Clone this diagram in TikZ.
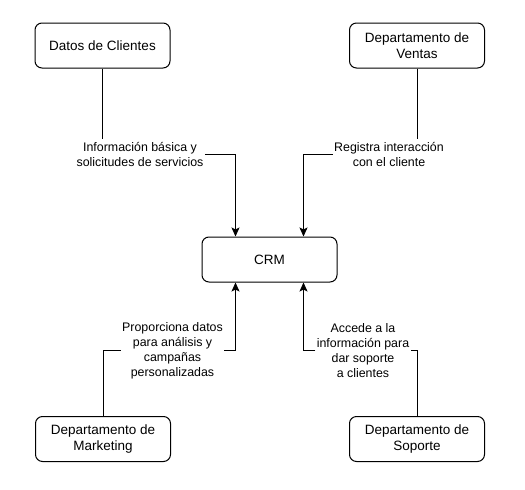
\documentclass[tikz,border=0pt]{standalone}
\usepackage{fontspec}
\setmainfont{Liberation Sans}
\usetikzlibrary{arrows.meta,calc}
\begin{document}
\begin{tikzpicture}[x=1pt, y=-1pt, line width=1pt, >={Stealth[length=9pt,width=8pt,inset=2pt]},
    box/.style={draw, rounded corners=7pt, minimum width=135pt, minimum height=45pt, align=center, font=\fontsize{13.5}{16}\selectfont},
    lbl/.style={align=center, inner xsep=1pt, inner ysep=2pt, font=\fontsize{12.4}{15}\selectfont}]

    \useasboundingbox (0,0) rectangle (525,490);

    \node[box] (datos) at (102.5,45.5) {Datos de Clientes};
    \node[box] (ventas) at (417,45.5) {Departamento de\\Ventas};
    \node[box] (crm) at (269.5,259.5) {CRM};
    \node[box] (marketing) at (103,439) {Departamento de\\Marketing};
    \node[box] (soporte) at (417,439) {Departamento de\\Soporte};

    \node[lbl] (info) at (140,154) {Información básica y\\solicitudes de servicios};
    \node[lbl] (registra) at (389,154) {Registra interacción\\con el cliente};
    \node[lbl] (proporciona) at (172.5,350.5) {Proporciona datos\\para análisis y\\campañas\\personalizadas};
    \node[lbl] (accede) at (363,350.5) {Accede a la\\información para\\dar soporte\\a clientes};

    \coordinate (crmtl) at ($(crm.north west)!.25!(crm.north east)$);
    \coordinate (crmtr) at ($(crm.north west)!.75!(crm.north east)$);
    \coordinate (crmbl) at ($(crm.south west)!.25!(crm.south east)$);
    \coordinate (crmbr) at ($(crm.south west)!.75!(crm.south east)$);

    \draw (datos.south) -- (datos.south |- info.north);
    \draw[->] (info.east) -| (crmtl);

    \draw (ventas.south) -- (ventas.south |- registra.north);
    \draw[->] (registra.west) -| (crmtr);

    \draw (marketing.north) |- (proporciona.west);
    \draw[->] (proporciona.east) -| (crmbl);

    \draw (soporte.north) |- (accede.east);
    \draw[->] (accede.west) -| (crmbr);

\end{tikzpicture}
\end{document}
